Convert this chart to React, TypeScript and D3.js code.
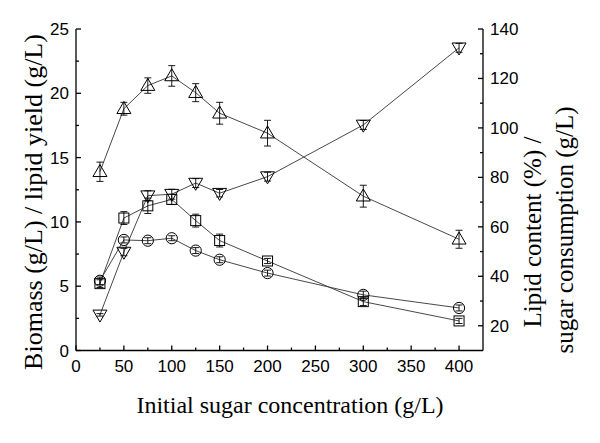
import React from "react";
import * as d3 from "d3";

const sugar = [25, 50, 75, 100, 125, 150, 200, 300, 400];
// left axis series (g/L)
const biomass = [13.9, 18.8, 20.6, 21.35, 20.05, 18.45, 16.9, 12.0, 8.65];
const biomassErr = [0.75, 0.5, 0.6, 0.8, 0.7, 0.85, 1.0, 0.85, 0.7];
const lipidYield = [5.2, 10.3, 11.25, 11.75, 10.1, 8.55, 6.96, 3.8, 2.3];
const lipidYieldErr = [0.3, 0.5, 0.6, 0.4, 0.5, 0.5, 0.2, 0.3, 0.2];
// right axis series
const lipidContent = [38.2, 54.7, 54.4, 55.4, 50.4, 46.7, 41.3, 32.5, 27.2];
const lipidContentErr = [1.5, 1.2, 1.2, 1.0, 1.2, 1.2, 1.2, 1.5, 1.2];
const sugarUsed = [24.4, 49.8, 72.6, 73.2, 77.7, 73.6, 80.3, 101.2, 132.4];
const sugarUsedErr = [0.5, 1.5, 2.0, 2.0, 1.8, 1.5, 1.8, 1.8, 1.8];

const xTicks = [0, 50, 100, 150, 200, 250, 300, 350, 400];
const xMinor = [25, 75, 125, 175, 225, 275, 325, 375];
const yLeftTicks = [0, 5, 10, 15, 20, 25];
const yLeftMinor = [2.5, 7.5, 12.5, 17.5, 22.5];
const yRightTicks = [20, 40, 60, 80, 100, 120, 140];
const yRightMinor = [30, 50, 70, 90, 110, 130];

const L = 76, R = 483, T = 29, B = 350.5;
const x = d3.scaleLinear().domain([0, 425]).range([L, R]);
const yL = d3.scaleLinear().domain([0, 25]).range([B, T]);
const yR = d3.scaleLinear().domain([10, 140]).range([B, T]);

const tickFont = "'Liberation Sans', Arial, Helvetica, sans-serif";
const titleFont = "'Liberation Serif', 'Times New Roman', serif";

type Shape = "tri" | "inv" | "sq" | "circ";

function Marker({ shape, cx, cy }: { shape: Shape; cx: number; cy: number }) {
  const st = { fill: "none", stroke: "#000", strokeWidth: 1 };
  if (shape === "circ") return <circle cx={cx} cy={cy} r={5.6} {...st} />;
  if (shape === "sq") return <rect x={cx - 5} y={cy - 5} width={10} height={10} {...st} />;
  const h = 12, w = 14;
  if (shape === "tri")
    return <path d={`M${cx},${cy - h * 0.6}L${cx + w / 2},${cy + h * 0.4}L${cx - w / 2},${cy + h * 0.4}Z`} {...st} />;
  return <path d={`M${cx},${cy + h * 0.6}L${cx + w / 2},${cy - h * 0.4}L${cx - w / 2},${cy - h * 0.4}Z`} {...st} />;
}

function Series({ vals, errs, y, shape }: { vals: number[]; errs: number[]; y: d3.ScaleLinear<number, number>; shape: Shape }) {
  const line = d3.line<number>().x((_, i) => x(sugar[i])).y((v) => y(v));
  return (
    <g>
      <path d={line(vals) || ""} fill="none" stroke="#333" strokeWidth={0.9} />
      {vals.map((v, i) => {
        const cx = x(sugar[i]);
        const y1 = y(v + errs[i]);
        const y2 = y(v - errs[i]);
        return (
          <g key={i}>
            <line x1={cx} x2={cx} y1={y1} y2={y2} stroke="#000" strokeWidth={0.9} />
            <line x1={cx - 3.5} x2={cx + 3.5} y1={y1} y2={y1} stroke="#000" strokeWidth={0.9} />
            <line x1={cx - 3.5} x2={cx + 3.5} y1={y2} y2={y2} stroke="#000" strokeWidth={0.9} />
            <Marker shape={shape} cx={cx} cy={y(v)} />
          </g>
        );
      })}
    </g>
  );
}

export default function App() {
  return (
    <svg width={600} height={443} style={{ position: "absolute", left: 0, top: 0, background: "#fff" }}>
      <rect width={600} height={443} fill="#fff" />
      {/* axes */}
      <g stroke="#000" strokeWidth={1.3}>
        <line x1={L} x2={L} y1={T} y2={B} />
        <line x1={L} x2={R} y1={B} y2={B} />
        <line x1={R} x2={R} y1={T} y2={B} />
        {xTicks.map((t) => (
          <line key={"xt" + t} x1={x(t)} x2={x(t)} y1={B} y2={B - 5} />
        ))}
        {xMinor.map((t) => (
          <line key={"xm" + t} x1={x(t)} x2={x(t)} y1={B} y2={B - 3} />
        ))}
        {yLeftTicks.map((t) => (
          <line key={"lt" + t} x1={L} x2={L + 5} y1={yL(t)} y2={yL(t)} />
        ))}
        {yLeftMinor.map((t) => (
          <line key={"lm" + t} x1={L} x2={L + 3} y1={yL(t)} y2={yL(t)} />
        ))}
        {yRightTicks.map((t) => (
          <line key={"rt" + t} x1={R} x2={R - 5} y1={yR(t)} y2={yR(t)} />
        ))}
        {yRightMinor.map((t) => (
          <line key={"rm" + t} x1={R} x2={R - 3} y1={yR(t)} y2={yR(t)} />
        ))}
      </g>
      <g fontFamily={tickFont} fontSize={17} fill="#000">
        {xTicks.map((t) => (
          <text key={"xl" + t} x={x(t)} y={372} textAnchor="middle">{t}</text>
        ))}
        {yLeftTicks.map((t) => (
          <text key={"ll" + t} x={L - 7} y={yL(t) + 6} textAnchor="end">{t}</text>
        ))}
        {yRightTicks.map((t) => (
          <text key={"rl" + t} x={R + 7} y={yR(t) + 6} textAnchor="start">{t}</text>
        ))}
      </g>
      <g fontFamily={titleFont} fill="#000">
        <text x={290} y={413} textAnchor="middle" fontSize={24}>Initial sugar concentration (g/L)</text>
        <text transform="translate(42,202) rotate(-90)" textAnchor="middle" fontSize={26}>Biomass (g/L) / lipid yield (g/L)</text>
        <text transform="translate(541,232) rotate(-90)" textAnchor="middle" fontSize={25}>Lipid content (%) /</text>
        <text transform="translate(573,230) rotate(-90)" textAnchor="middle" fontSize={25}>sugar consumption (g/L)</text>
      </g>
      <Series vals={biomass} errs={biomassErr} y={yL} shape="tri" />
      <Series vals={lipidYield} errs={lipidYieldErr} y={yL} shape="sq" />
      <Series vals={lipidContent} errs={lipidContentErr} y={yR} shape="circ" />
      <Series vals={sugarUsed} errs={sugarUsedErr} y={yR} shape="inv" />
    </svg>
  );
}
